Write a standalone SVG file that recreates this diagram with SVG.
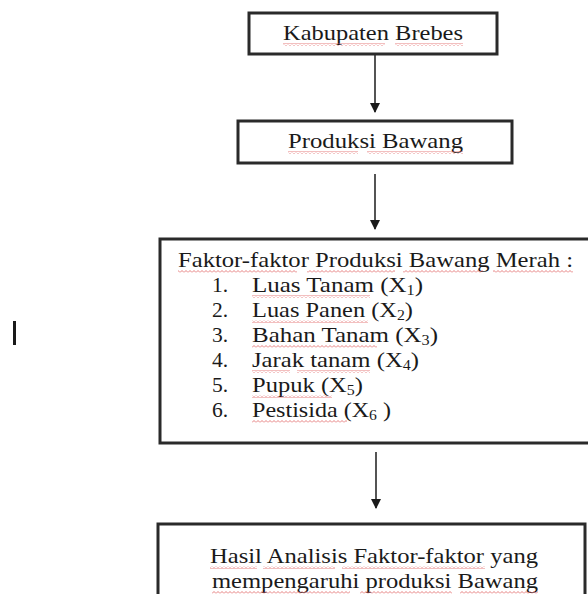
<svg xmlns="http://www.w3.org/2000/svg" width="588" height="594" viewBox="0 0 588 594">
<style>
.box{fill:#fff;stroke:#2a2a2a;stroke-width:3}
.t{font-family:"Liberation Serif","Times New Roman",serif;font-size:21.5px;fill:#1a1a1a}
.sub{font-size:14px}
.con{stroke:#2a2a2a;stroke-width:1.6;fill:none}
.sq{fill:url(#wave)}
</style>
<defs>
<marker id="ah" markerWidth="10" markerHeight="10" refX="9" refY="5" orient="auto" markerUnits="userSpaceOnUse">
<path d="M0,0 L10,5 L0,10 z" fill="#1a1a1a"/>
</marker>
<pattern id="wave" patternUnits="userSpaceOnUse" x="0" y="0" width="4" height="3">
<path d="M0,2.5 L2,0.5 L4,2.5" fill="none" stroke="#e06060" stroke-width="0.8"/>
</pattern>
</defs>
<rect width="588" height="594" fill="#fff"/>
<g id="connectors">
<line class="con" x1="375" y1="55" x2="375" y2="112" marker-end="url(#ah)"/>
<line class="con" x1="375" y1="174" x2="375" y2="229" marker-end="url(#ah)"/>
<line class="con" x1="376" y1="452" x2="376" y2="508" marker-end="url(#ah)"/>
</g>
<g id="n1">
<rect class="box" x="249" y="13" width="248" height="41"/>
<text class="t" x="283" y="40" textLength="180" lengthAdjust="spacingAndGlyphs">Kabupaten Brebes</text>
<rect class="sq" x="283" y="43" width="102" height="3"/>
<rect class="sq" x="395" y="43" width="68" height="3"/>
</g>
<g id="n2">
<rect class="box" x="238" y="121" width="274" height="42"/>
<text class="t" x="288" y="148" textLength="175" lengthAdjust="spacingAndGlyphs">Produksi Bawang</text>
<rect class="sq" x="288" y="151" width="70" height="3"/>
<rect class="sq" x="367" y="151" width="96" height="3"/>
</g>
<g id="n3">
<rect class="box" x="160" y="239" width="432" height="204"/>
<text class="t" x="178" y="267" textLength="395" lengthAdjust="spacingAndGlyphs">Faktor-faktor Produksi Bawang Merah :</text>
<rect class="sq" x="178" y="270" width="119" height="3"/>
<rect class="sq" x="307" y="270" width="88" height="3"/>
<rect class="sq" x="403" y="270" width="80" height="3"/>
<rect class="sq" x="493" y="270" width="80" height="3"/>
<text class="t" x="212" y="292">1.</text>
<text class="t" x="252" y="292" textLength="171" lengthAdjust="spacingAndGlyphs">Luas Tanam  (X<tspan class="sub" dy="3">1</tspan><tspan dy="-3">)</tspan></text>
<rect class="sq" x="252" y="295" width="118" height="3"/>
<text class="t" x="212" y="317">2.</text>
<text class="t" x="252" y="317" textLength="161" lengthAdjust="spacingAndGlyphs">Luas Panen (X<tspan class="sub" dy="3">2</tspan><tspan dy="-3">)</tspan></text>
<rect class="sq" x="252" y="320" width="116" height="3"/>
<text class="t" x="212" y="342">3.</text>
<text class="t" x="252" y="342" textLength="186" lengthAdjust="spacingAndGlyphs">Bahan Tanam (X<tspan class="sub" dy="3">3</tspan><tspan dy="-3">)</tspan></text>
<rect class="sq" x="252" y="345" width="125" height="3"/>
<text class="t" x="212" y="367">4.</text>
<text class="t" x="252" y="367" textLength="167" lengthAdjust="spacingAndGlyphs">Jarak tanam (X<tspan class="sub" dy="3">4</tspan><tspan dy="-3">)</tspan></text>
<rect class="sq" x="252" y="370" width="38" height="3"/>
<rect class="sq" x="297" y="370" width="73" height="3"/>
<text class="t" x="212" y="392">5.</text>
<text class="t" x="252" y="392" textLength="111" lengthAdjust="spacingAndGlyphs">Pupuk (X<tspan class="sub" dy="3">5</tspan><tspan dy="-3">)</tspan></text>
<rect class="sq" x="252" y="395" width="80" height="3"/>
<text class="t" x="212" y="417">6.</text>
<text class="t" x="252" y="417" textLength="139" lengthAdjust="spacingAndGlyphs">Pestisida (X<tspan class="sub" dy="3">6</tspan><tspan dy="-3"> )</tspan></text>
<rect class="sq" x="252" y="420" width="95" height="3"/>
</g>
<g id="n4">
<rect class="box" x="158" y="524" width="427" height="90"/>
<text class="t" x="210" y="563" textLength="328" lengthAdjust="spacingAndGlyphs">Hasil Analisis Faktor-faktor yang</text>
<rect class="sq" x="210" y="566" width="47" height="3"/>
<rect class="sq" x="263" y="566" width="72" height="3"/>
<rect class="sq" x="342" y="566" width="143" height="3"/>
<text class="t" x="212" y="588" textLength="326" lengthAdjust="spacingAndGlyphs">mempengaruhi  produksi Bawang</text>
<rect class="sq" x="212" y="591" width="138" height="3"/>
<rect class="sq" x="360" y="591" width="92" height="3"/>
<rect class="sq" x="460" y="591" width="78" height="3"/>
</g>
<rect x="13" y="321" width="3" height="24" fill="#1a1a1a"/>
</svg>
